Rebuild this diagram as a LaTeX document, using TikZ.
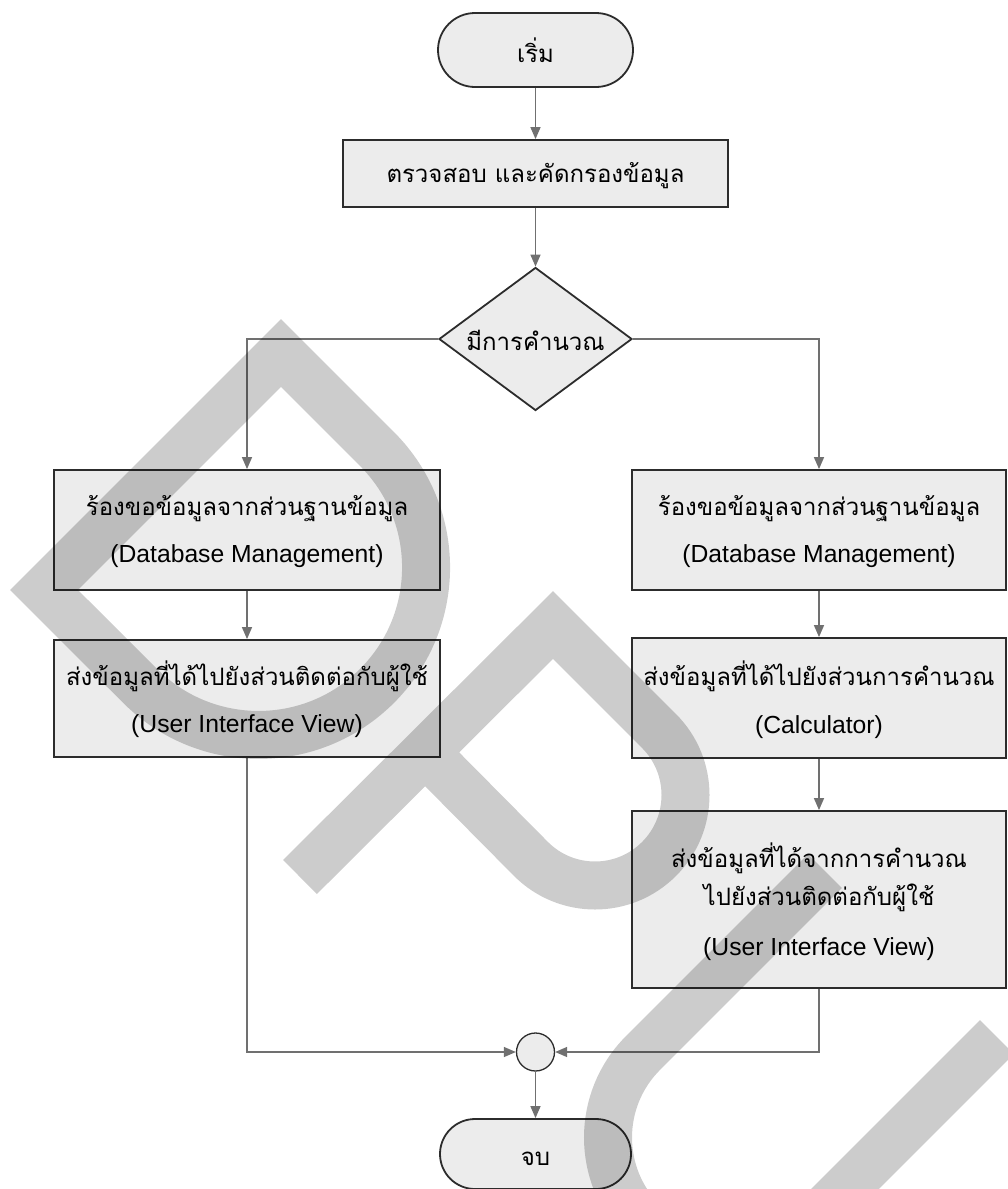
\documentclass[tikz,border=0pt]{standalone}
\usepackage{fontspec}
\setmainfont{Liberation Sans}
\newfontfamily\thaifont[Script=Thai]{Loma}
\usetikzlibrary{arrows.meta,shapes.geometric,shapes.misc}
\definecolor{boxfill}{HTML}{ECECEC}
\definecolor{boxline}{HTML}{2C2C2C}
\definecolor{connline}{HTML}{707070}
\begin{document}
\begin{tikzpicture}[x=1pt,y=-1pt,
  shapebox/.style={draw=boxline,line width=1.8pt,fill=boxfill,inner sep=0pt,rectangle},
  termbox/.style={shapebox,rounded rectangle},
  decbox/.style={shapebox,diamond},
  joinbox/.style={draw=boxline,line width=1.3pt,fill=boxfill,circle,inner sep=0pt,minimum size=38pt},
  thtxt/.style={inner sep=0pt,anchor=base,font=\thaifont\fontsize{24}{30}\selectfont},
  entxt/.style={inner sep=0pt,anchor=base,font=\fontsize{24.7}{30}\selectfont},
  conn/.style={draw=connline,line width=1.4pt},
  arr/.style={conn,-{Triangle[length=12pt,width=10pt]}},
  wmark/.style={draw=black,draw opacity=0.2,line width=48pt,line join=miter,line cap=butt}
]
\useasboundingbox (0,0) rectangle (1008,1189);
\clip (0,0) rectangle (1008,1189);
% shapes
\node[termbox,minimum width=195pt,minimum height=74pt] (start) at (535.5,50) {};
\node[shapebox,minimum width=385pt,minimum height=67pt] (check) at (535.5,173.5) {};
\node[decbox,minimum width=193pt,minimum height=143pt] (calc) at (535.5,339) {};
\node[shapebox,minimum width=386pt,minimum height=120pt] (l1) at (247,530) {};
\node[shapebox,minimum width=386pt,minimum height=117pt] (l2) at (247,698.5) {};
\node[shapebox,minimum width=374pt,minimum height=120pt] (r1) at (819,530) {};
\node[shapebox,minimum width=374pt,minimum height=120pt] (r2) at (819,698) {};
\node[shapebox,minimum width=374pt,minimum height=177pt] (r3) at (819,899.5) {};
\node[joinbox] (merge) at (535.5,1052) {};
\node[termbox,minimum width=191pt,minimum height=70pt] (stop) at (535.5,1154) {};
% texts
\node[thtxt] (startT) at (535.5,62) {เริ่ม};
\node[thtxt] (checkT) at (535.5,182) {ตรวจสอบ และคัดกรองข้อมูล};
\node[thtxt] (calcT) at (535.5,350) {มีการคำนวณ};
\node[thtxt] (l1a) at (247,515) {ร้องขอข้อมูลจากส่วนฐานข้อมูล};
\node[entxt] (l1b) at (247,562) {(Database Management)};
\node[thtxt] (l2a) at (247,685) {ส่งข้อมูลที่ได้ไปยังส่วนติดต่อกับผู้ใช้};
\node[entxt] (l2b) at (247,732) {(User Interface View)};
\node[thtxt] (r1a) at (819,515) {ร้องขอข้อมูลจากส่วนฐานข้อมูล};
\node[entxt] (r1b) at (819,562) {(Database Management)};
\node[thtxt] (r2a) at (819,685) {ส่งข้อมูลที่ได้ไปยังส่วนการคำนวณ};
\node[entxt] (r2b) at (819,733) {(Calculator)};
\node[thtxt] (r3a) at (819,867) {ส่งข้อมูลที่ได้จากการคำนวณ};
\node[thtxt] (r3b) at (819,905) {ไปยังส่วนติดต่อกับผู้ใช้};
\node[entxt] (r3c) at (819,955) {(User Interface View)};
\node[thtxt] (stopT) at (535.5,1165) {จบ};
% connectors
\draw[arr] (start) -- (check);
\draw[arr] (check) -- (calc);
\draw[arr] (calc.west) -| (l1.north);
\draw[arr] (calc.east) -| (r1.north);
\draw[arr] (l1) -- (l2);
\draw[arr] (r1) -- (r2);
\draw[arr] (r2) -- (r3);
\draw[arr] (l2.south) |- (merge.west);
\draw[arr] (r3.south) |- (merge.east);
\draw[arr] (merge) -- (stop);
% watermark
\draw[wmark] (44,590) -- (281,353) -- (377,449) arc[start angle=45,end angle=-135,radius=167.5pt] -- cycle;
\draw[wmark] (300,877) -- (553,625) -- (659,731) arc[start angle=45,end angle=-135,radius=90.5pt] -- (426,753);
\draw[wmark] (825,871) -- (643,1053) arc[start angle=135,end angle=315,radius=119.5pt] -- (997,1037);
\end{tikzpicture}
\end{document}
